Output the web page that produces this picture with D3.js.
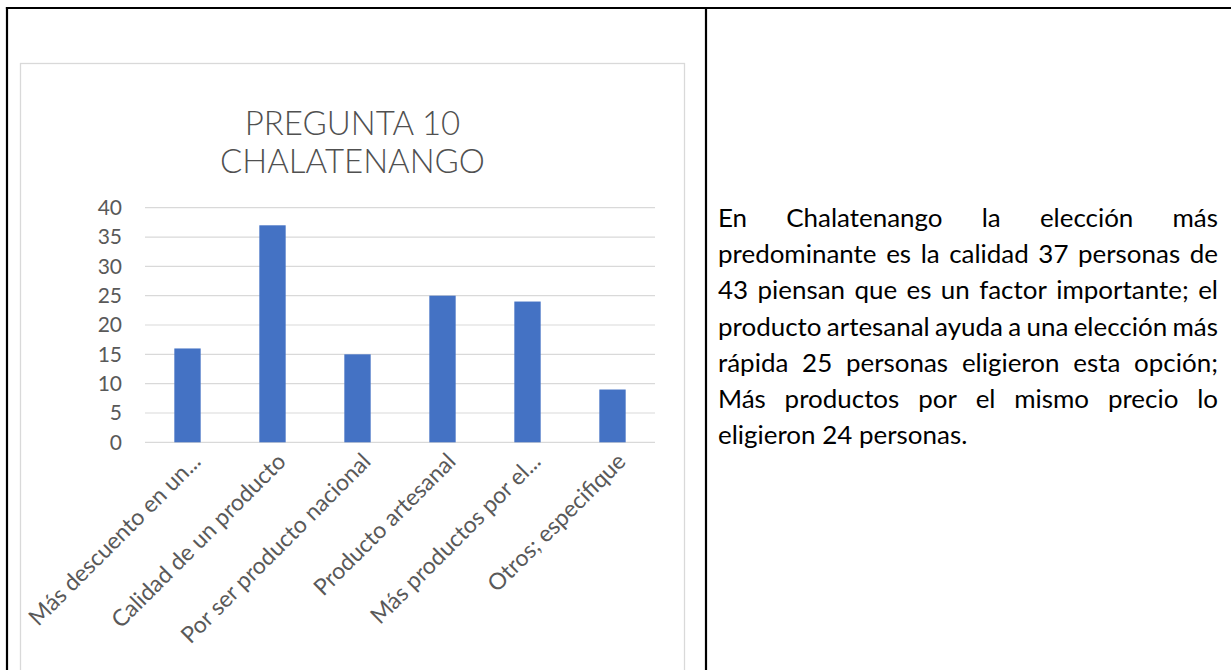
<!DOCTYPE html>
<html lang="es">
<head>
<meta charset="utf-8">
<title>Pregunta 10 Chalatenango</title>
<script src="https://cdn.jsdelivr.net/npm/d3@7"></script>
<style>
  html, body { margin: 0; padding: 0; background: #fff; }
  svg { display: block; }
</style>
</head>
<body>
<svg id="page" width="1231" height="670"></svg>
<script>
// Survey answers: question 10, Chalatenango
const categories = [
  "Más descuento en un producto",
  "Calidad de un producto",
  "Por ser producto nacional",
  "Producto artesanal",
  "Más productos por el mismo precio",
  "Otros; especifique"
];
const tickLabels = [
  "Más descuento en un...",
  "Calidad de un producto",
  "Por ser producto nacional",
  "Producto artesanal",
  "Más productos por el...",
  "Otros; especifique"
];
const values = [16, 37, 15, 25, 24, 9];
const yTicks = [0, 5, 10, 15, 20, 25, 30, 35, 40];
const titleLines = ["PREGUNTA 10", "CHALATENANGO"];
const paragraphLines = [
  "En Chalatenango la elección más",
  "predominante es la calidad 37 personas de",
  "43 piensan que es un factor importante; el",
  "producto artesanal ayuda a una elección más",
  "rápida 25 personas eligieron esta opción;",
  "Más productos por el mismo precio lo",
  "eligieron 24 personas."
];

const svg = d3.select("#page");
const textGray = "#595959";
const font = "Lato, 'Noto Sans', sans-serif";

// Table cell borders
const rules = svg.append("g").attr("stroke", "#000").attr("stroke-width", 2.2);
rules.append("line").attr("x1", 5.9).attr("x2", 1231).attr("y1", 8).attr("y2", 8);
rules.append("line").attr("x1", 7).attr("x2", 7).attr("y1", 7).attr("y2", 670);
rules.append("line").attr("x1", 706).attr("x2", 706).attr("y1", 7).attr("y2", 670);

// Chart area frame
svg.append("rect")
  .attr("x", 20.5).attr("y", 63.5)
  .attr("width", 664).attr("height", 640)
  .attr("fill", "#fff").attr("stroke", "#d9d9d9").attr("stroke-width", 1.3);

// Title
svg.append("g").selectAll("text").data(titleLines).join("text")
  .attr("x", 352.5)
  .attr("y", (d, i) => 135 + i * 38)
  .attr("text-anchor", "middle")
  .attr("font-family", font)
  .attr("font-weight", 300)
  .attr("font-size", 33)
  .attr("fill", "#505050")
  .text(d => d);

// Plot
const plot = { left: 145, right: 655, top: 207.7, bottom: 442.3 };

const x = d3.scaleBand()
  .domain(categories)
  .range([plot.left, plot.right])
  .paddingInner(0.69)
  .paddingOuter(0.345);

const y = d3.scaleLinear()
  .domain([0, 40])
  .range([plot.bottom, plot.top]);

// Horizontal gridlines
svg.append("g").selectAll("line").data(yTicks).join("line")
  .attr("x1", plot.left).attr("x2", plot.right)
  .attr("y1", d => y(d)).attr("y2", d => y(d))
  .attr("stroke", "#d9d9d9").attr("stroke-width", 1.2);

// Y axis labels
const yAxis = d3.axisLeft(y).tickValues(yTicks).tickSize(0).tickPadding(0);
const yg = svg.append("g").attr("transform", `translate(122,0)`).call(yAxis);
yg.select(".domain").remove();
yg.selectAll("text")
  .attr("font-family", font)
  .attr("font-size", 21)
  .attr("fill", textGray);

// Bars
svg.append("g").selectAll("rect").data(values).join("rect")
  .attr("x", (d, i) => x(categories[i]))
  .attr("y", d => y(d))
  .attr("width", x.bandwidth())
  .attr("height", d => y(0) - y(d))
  .attr("fill", "#4472c4");

// Category labels, rotated
svg.append("g").selectAll("text").data(categories).join("text")
  .attr("transform", d => `translate(${x(d) + x.bandwidth() / 2 + 9},${plot.bottom + 15}) rotate(-45)`)
  .attr("text-anchor", "end")
  .attr("dy", "0.35em")
  .attr("font-family", font)
  .attr("font-size", 23)
  .attr("fill", textGray)
  .text((d, i) => tickLabels[i]);

// Justified paragraph in the right cell
const para = { left: 718, right: 1218, baseline: 227, lead: 36.2 };
const probe = svg.append("text").attr("font-family", font).attr("font-size", 100).attr("visibility", "hidden");
function wordWidths(line) {
  return line.split(" ").map(w => { probe.text(w); return probe.node().getComputedTextLength() / 100; });
}
const spaceW = (() => { probe.text("a a"); const a2 = probe.node().getComputedTextLength(); probe.text("aa"); return (a2 - probe.node().getComputedTextLength()) / 100; })();
let bodySize = 27;
paragraphLines.slice(0, -1).forEach(line => {
  const ws = wordWidths(line);
  const natural = d3.sum(ws) + spaceW * (ws.length - 1) * 0.8;
  bodySize = Math.min(bodySize, (para.right - para.left) / natural);
});
bodySize = Math.max(bodySize, 24.5);

const pg = svg.append("g").attr("font-family", font).attr("font-size", bodySize).attr("fill", "#000");
paragraphLines.forEach((line, li) => {
  const words = line.split(" ");
  const ws = wordWidths(line).map(w => w * bodySize);
  const last = li === paragraphLines.length - 1;
  const gap = last ? spaceW * bodySize : ((para.right - para.left) - d3.sum(ws)) / (words.length - 1);
  let cx = para.left;
  words.forEach((w, wi) => {
    pg.append("text").attr("x", cx).attr("y", para.baseline + li * para.lead).text(w);
    cx += ws[wi] + gap;
  });
});
probe.remove();
</script>
</body>
</html>
